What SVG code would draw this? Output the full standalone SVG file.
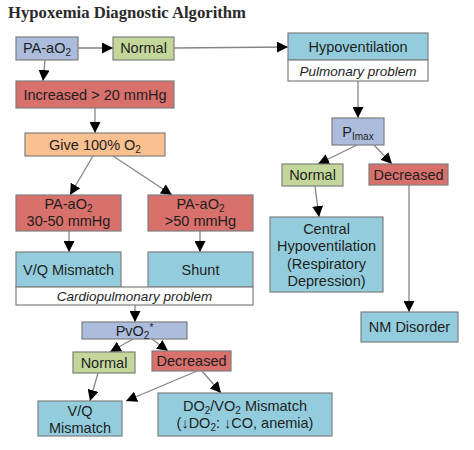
<svg xmlns="http://www.w3.org/2000/svg" width="474" height="450" viewBox="0 0 474 450">
<defs>
<style>
.t{font-family:"Liberation Sans",Arial,sans-serif;font-size:14.5px;fill:#1e1e1e;text-anchor:middle}
.i{font-family:"Liberation Sans",Arial,sans-serif;font-size:13.5px;font-style:italic;fill:#1e1e1e;text-anchor:middle}
.box{stroke:#7f7f7f;stroke-width:1.2}
.blue{fill:#abbcdc}
.green{fill:#c4d79b}
.red{fill:#d8706c}
.orange{fill:#fac090}
.cyan{fill:#93cddd}
.white{fill:#ffffff}
.c{stroke:#858585;stroke-width:1.3;fill:none;marker-end:url(#ah)}
</style>
<marker id="ah" markerUnits="userSpaceOnUse" markerWidth="11" markerHeight="11" refX="10" refY="5" orient="auto" viewBox="0 0 10 10">
<path d="M0,0 L10,5 L0,10 z" fill="#000"/>
</marker>
</defs>
<rect width="474" height="450" fill="#fff"/>
<text x="8" y="18" font-family="'Liberation Serif','Times New Roman',serif" font-weight="bold" font-size="16" fill="#2a2a2a" textLength="238" lengthAdjust="spacingAndGlyphs">Hypoxemia Diagnostic Algorithm</text>

<g id="connectors">
<line class="c" x1="78" y1="48" x2="113" y2="48"/>
<line class="c" x1="174" y1="48" x2="288" y2="47"/>
<line class="c" x1="45" y1="60" x2="43" y2="81"/>
<line class="c" x1="95" y1="108" x2="95" y2="133"/>
<line class="c" x1="93" y1="156" x2="70" y2="195"/>
<line class="c" x1="113" y1="156" x2="172" y2="195"/>
<line class="c" x1="69" y1="231" x2="69" y2="252"/>
<line class="c" x1="200" y1="231" x2="200" y2="252"/>
<line class="c" x1="135" y1="305" x2="135" y2="322"/>
<line class="c" x1="133" y1="339" x2="110" y2="352"/>
<line class="c" x1="152" y1="339" x2="168" y2="351"/>
<line class="c" x1="98" y1="373" x2="90" y2="401"/>
<line class="c" x1="197" y1="371" x2="126" y2="401"/>
<line class="c" x1="202" y1="371" x2="221" y2="393"/>
<line class="c" x1="358" y1="81" x2="358" y2="118"/>
<line class="c" x1="357" y1="145" x2="318" y2="164"/>
<line class="c" x1="374" y1="145" x2="392" y2="164"/>
<line class="c" x1="315" y1="186" x2="319" y2="217"/>
<line class="c" x1="409" y1="185" x2="409" y2="312"/>
</g>

<g id="pa-ao2">
<rect class="box blue" x="16" y="37" width="62" height="23"/>
<text class="t" x="47" y="53">PA-aO<tspan font-size="10" dy="3">2</tspan></text>
</g>
<g id="normal-top">
<rect class="box green" x="113" y="37" width="61" height="23"/>
<text class="t" x="143.5" y="53">Normal</text>
</g>
<g id="hypoventilation">
<rect class="box cyan" x="288" y="33" width="140" height="27"/>
<rect class="box white" x="288" y="60" width="140" height="21"/>
<text class="t" x="358" y="51.5">Hypoventilation</text>
<text class="i" x="358" y="75.5">Pulmonary problem</text>
</g>
<g id="increased">
<rect class="box red" x="16" y="81" width="158" height="27"/>
<text class="t" x="95" y="99.5">Increased &gt; 20 mmHg</text>
</g>
<g id="give-o2">
<rect class="box orange" x="25" y="133" width="140" height="23"/>
<text class="t" x="95" y="149.5">Give 100% O<tspan font-size="10" dy="3">2</tspan></text>
</g>
<g id="pimax">
<rect class="box blue" x="332" y="118" width="52" height="27"/>
<text class="t" x="358" y="137">P<tspan font-size="10" dy="3">Imax</tspan></text>
</g>
<g id="normal-pimax">
<rect class="box green" x="282" y="164" width="61" height="22"/>
<text class="t" x="312.5" y="180">Normal</text>
</g>
<g id="decreased-pimax">
<rect class="box red" x="369" y="164" width="79" height="21"/>
<text class="t" x="408.5" y="179.5">Decreased</text>
</g>
<g id="central">
<rect class="box cyan" x="270" y="217" width="113" height="75"/>
<text class="t" x="326.5" y="233.5">Central</text>
<text class="t" x="326.5" y="251">Hypoventilation</text>
<text class="t" x="326.5" y="268.5">(Respiratory</text>
<text class="t" x="326.5" y="286">Depression)</text>
</g>
<g id="nm-disorder">
<rect class="box cyan" x="361" y="312" width="97" height="30"/>
<text class="t" x="409.5" y="332">NM Disorder</text>
</g>
<g id="pa-3050">
<rect class="box red" x="16" y="195" width="105" height="36"/>
<text class="t" x="68.5" y="209">PA-aO<tspan font-size="10" dy="3">2</tspan></text>
<text class="t" x="68.5" y="226">30-50 mmHg</text>
</g>
<g id="pa-50">
<rect class="box red" x="148" y="195" width="105" height="36"/>
<text class="t" x="200.5" y="209">PA-aO<tspan font-size="10" dy="3">2</tspan></text>
<text class="t" x="200.5" y="226">&gt;50 mmHg</text>
</g>
<g id="vq-mismatch">
<rect class="box cyan" x="16" y="252" width="105" height="35"/>
<text class="t" x="68.5" y="274.5">V/Q Mismatch</text>
</g>
<g id="shunt">
<rect class="box cyan" x="148" y="252" width="105" height="35"/>
<text class="t" x="200.5" y="274.5">Shunt</text>
</g>
<g id="cardiopulmonary">
<rect class="box white" x="16" y="287" width="237" height="18"/>
<text class="i" x="134.5" y="300.5">Cardiopulmonary problem</text>
</g>
<g id="pvo2">
<rect class="box blue" x="82" y="322" width="105" height="17"/>
<text class="t" x="134.5" y="335.5">PvO<tspan font-size="10" dy="3">2</tspan><tspan font-size="10" dy="-8">*</tspan></text>
</g>
<g id="normal-pvo2">
<rect class="box green" x="73" y="352" width="62" height="21"/>
<text class="t" x="104" y="367.5">Normal</text>
</g>
<g id="decreased-pvo2">
<rect class="box red" x="152" y="351" width="79" height="20"/>
<text class="t" x="191.5" y="366">Decreased</text>
</g>
<g id="vq-mismatch-2">
<rect class="box cyan" x="38" y="401" width="84" height="35"/>
<text class="t" x="80" y="416">V/Q</text>
<text class="t" x="80" y="432.5">Mismatch</text>
</g>
<g id="do2-vo2">
<rect class="box cyan" x="158" y="393" width="174" height="43"/>
<text class="t" x="245" y="411">DO<tspan font-size="10" dy="3">2</tspan><tspan dy="-3">/VO</tspan><tspan font-size="10" dy="3">2</tspan><tspan dy="-3"> Mismatch</tspan></text>
<text class="t" x="245" y="428">(↓DO<tspan font-size="10" dy="3">2</tspan><tspan dy="-3">: ↓CO, anemia)</tspan></text>
</g>
</svg>
